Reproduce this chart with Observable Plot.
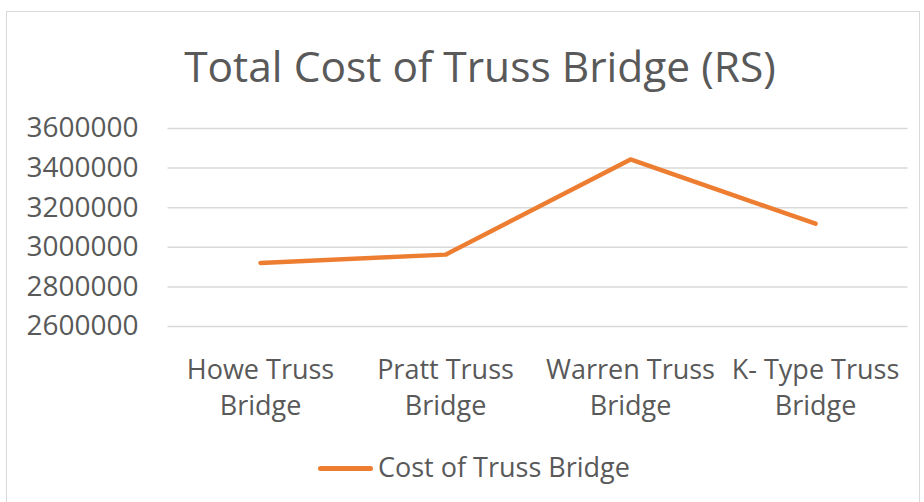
<!DOCTYPE html>
<html><head><meta charset="utf-8">
<script src="https://cdn.jsdelivr.net/npm/d3@7"></script>
<script src="https://cdn.jsdelivr.net/npm/@observablehq/plot@0.6"></script>
<style>
body{margin:0;background:#fff;}
#wrap{position:relative;width:924px;height:502px;overflow:hidden;font-family:"Open Sans",sans-serif;color:#595959;background:#fff;}
#frame{position:absolute;left:6px;top:11px;width:914px;height:520px;border:1px solid #d9d9d9;box-sizing:border-box;}
#chart{position:absolute;left:0;top:0;}
#title{position:absolute;left:0;width:960px;top:45px;text-align:center;font-size:42.5px;line-height:1;white-space:nowrap;}
#legend{position:absolute;left:316px;top:453px;height:27px;font-size:27px;line-height:1;white-space:nowrap;}
#legend .sw{position:absolute;left:2px;top:13px;width:55px;height:4.5px;border-radius:3px;background:#ED7D31;}
#legend .lab{position:absolute;left:62px;top:0;}
</style>
</head><body>
<div id="wrap">
  <div id="frame"></div>
  <div id="chart"></div>
  <div id="title"></div>
  <div id="legend"><span class="sw"></span><span class="lab"></span></div>
</div>
<script>
const titleText = "Total Cost of Truss Bridge (RS)";
const seriesName = "Cost of Truss Bridge";
const categories = ["Howe Truss Bridge", "Pratt Truss Bridge", "Warren Truss Bridge", "K- Type Truss Bridge"];
const costs = [2921000, 2963000, 3444000, 3119000];
const yTicks = [2600000, 2800000, 3000000, 3200000, 3400000, 3600000];

const data = categories.map((c, i) => ({category: c, cost: costs[i]}));

document.getElementById("title").textContent = titleText;
document.querySelector("#legend .lab").textContent = seriesName;

const plot = Plot.plot({
  width: 924,
  height: 502,
  marginTop: 128,
  marginBottom: 176,
  marginLeft: 167.5,
  marginRight: 16.5,
  style: {background: "transparent", fontFamily: "'Open Sans', sans-serif", color: "#595959"},
  x: {type: "point", domain: categories, padding: 0.5},
  y: {domain: [2600000, 3600000]},
  marks: [
    Plot.ruleY(yTicks, {stroke: "#d9d9d9", strokeWidth: 1.5}),
    Plot.axisY({ticks: yTicks, tickSize: 0, tickPadding: 29.5, fontSize: 28, fill: "#595959", label: null, tickFormat: d => String(d)}),
    Plot.axisX({tickSize: 0, tickPadding: 27, fontSize: 27, lineHeight: 1.33, fill: "#595959", label: null,
      tickFormat: d => d.replace(/ Bridge$/, "\nBridge")}),
    Plot.line(data, {x: "category", y: "cost", stroke: "#ED7D31", strokeWidth: 4.5, strokeLinecap: "round", strokeLinejoin: "round"})
  ]
});
document.getElementById("chart").appendChild(plot);
</script>
</body></html>
